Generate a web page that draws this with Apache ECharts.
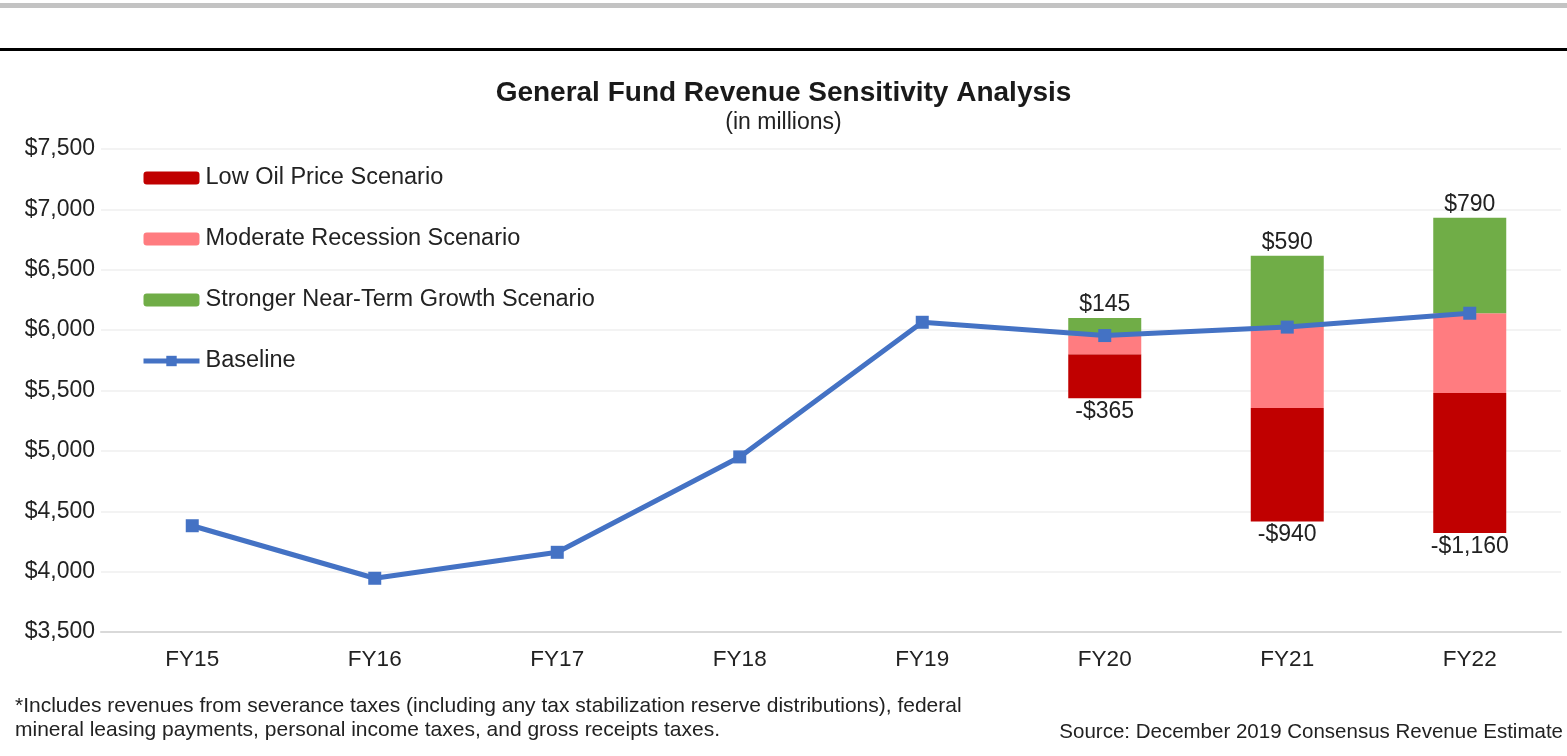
<!DOCTYPE html>
<html>
<head>
<meta charset="utf-8">
<script src="https://cdn.jsdelivr.net/npm/echarts@6/dist/echarts.min.js"></script>
<style>
  html, body { margin: 0; padding: 0; background: #fff; }
  #chart { width: 1567px; height: 756px; }
</style>
</head>
<body>
<div id="chart"></div>
<script>
// fiscal years on the x axis
const years = ['FY15', 'FY16', 'FY17', 'FY18', 'FY19', 'FY20', 'FY21', 'FY22'];
// baseline forecast, $ millions
const baseline = [4380, 3945, 4160, 4950, 6065, 5955, 6025, 6140];
// scenario levels (only FY20-FY22 have scenarios)
const moderateLevel = [null, null, null, null, null, 5800, 5355, 5480];
const lowOilDelta = [null, null, null, null, null, -365, -940, -1160];
const growthDelta = [null, null, null, null, null, 145, 590, 790];
const yTicks = [3500, 4000, 4500, 5000, 5500, 6000, 6500, 7000, 7500];

const font = 'Liberation Sans, Arial, sans-serif';
const money = v => '$' + v.toLocaleString('en-US');

// stacked floating bars: hidden base, red, pink, green
const hiddenBase = moderateLevel.map((m, i) => m == null ? null : m + lowOilDelta[i]);
const lowOilBar = lowOilDelta.map(d => d == null ? null : -d);
const moderateBar = moderateLevel.map((m, i) => m == null ? null : baseline[i] - m);
const growthBar = growthDelta.slice();

const chart = echarts.init(document.getElementById('chart'), null, { renderer: 'canvas' });

const option = {
  animation: false,
  textStyle: { fontFamily: font },
  title: {
    text: 'General Fund Revenue Sensitivity Analysis',
    subtext: '(in millions)',
    left: 'center',
    top: 74,
    itemGap: 4,
    textStyle: { fontFamily: font, fontSize: 28, fontWeight: 'bold', color: '#1a1a1a' },
    subtextStyle: { fontFamily: font, fontSize: 23, color: '#222' }
  },
  legend: {
    orient: 'vertical',
    left: 136,
    top: 161,
    itemGap: 37,
    itemWidth: 56,
    itemHeight: 13,
    textStyle: { fontFamily: font, fontSize: 23.5, color: '#222', padding: [0, 0, 0, 1] },
    data: [
      'Low Oil Price Scenario',
      'Moderate Recession Scenario',
      'Stronger Near-Term Growth Scenario',
      { name: 'Baseline', lineStyle: { width: 5 }, itemStyle: { color: '#4472c4' } }
    ]
  },
  grid: { left: 101, right: 6, top: 149, bottom: 124 },
  xAxis: {
    type: 'category',
    data: years,
    axisLine: { show: true, lineStyle: { color: '#d9d9d9', width: 2 } },
    axisTick: { show: false },
    axisLabel: { fontFamily: font, fontSize: 22.5, color: '#222', margin: 16 }
  },
  yAxis: {
    type: 'value',
    min: yTicks[0],
    max: yTicks[yTicks.length - 1],
    interval: 500,
    axisLine: { show: false },
    axisTick: { show: false },
    splitLine: { lineStyle: { color: '#efefef', width: 1.5 } },
    axisLabel: { fontFamily: font, fontSize: 23, color: '#222', margin: 6, formatter: money }
  },
  series: [
    {
      name: 'base', type: 'bar', stack: 's', data: hiddenBase, barWidth: '40%',
      itemStyle: { color: 'transparent' }, silent: true
    },
    {
      name: 'Low Oil Price Scenario', type: 'bar', stack: 's', data: lowOilBar,
      itemStyle: { color: '#c00000' },
      label: {
        show: true, position: 'bottom', distance: 2, fontFamily: font, fontSize: 23, color: '#222',
        formatter: p => '-' + money(p.value)
      }
    },
    {
      name: 'Moderate Recession Scenario', type: 'bar', stack: 's', data: moderateBar,
      itemStyle: { color: '#ff7c80' }
    },
    {
      name: 'Stronger Near-Term Growth Scenario', type: 'bar', stack: 's', data: growthBar,
      itemStyle: { color: '#70ad47' },
      label: {
        show: true, position: 'top', distance: 2, fontFamily: font, fontSize: 23, color: '#222',
        formatter: p => money(p.value)
      }
    },
    {
      name: 'Baseline', type: 'line', data: baseline, z: 5,
      symbol: 'rect', symbolSize: 13,
      lineStyle: { color: '#4472c4', width: 5 },
      itemStyle: { color: '#4472c4' }
    }
  ],
  graphic: [
    { type: 'rect', left: 0, top: 3, shape: { width: 1567, height: 5 }, style: { fill: '#c3c3c3' } },
    { type: 'rect', left: 0, top: 48, shape: { width: 1567, height: 3 }, style: { fill: '#000' } },
    {
      type: 'text', left: 15, top: 694,
      style: {
        text: '*Includes revenues from severance taxes (including any tax stabilization reserve distributions), federal\nmineral leasing payments, personal income taxes, and gross receipts taxes.',
        font: '21px ' + font, fill: '#222', lineHeight: 24
      }
    },
    {
      type: 'text', right: 4, top: 722,
      style: { text: 'Source: December 2019 Consensus Revenue Estimate', font: '20.5px ' + font, fill: '#222' }
    }
  ]
};

chart.setOption(option);
</script>
</body>
</html>
